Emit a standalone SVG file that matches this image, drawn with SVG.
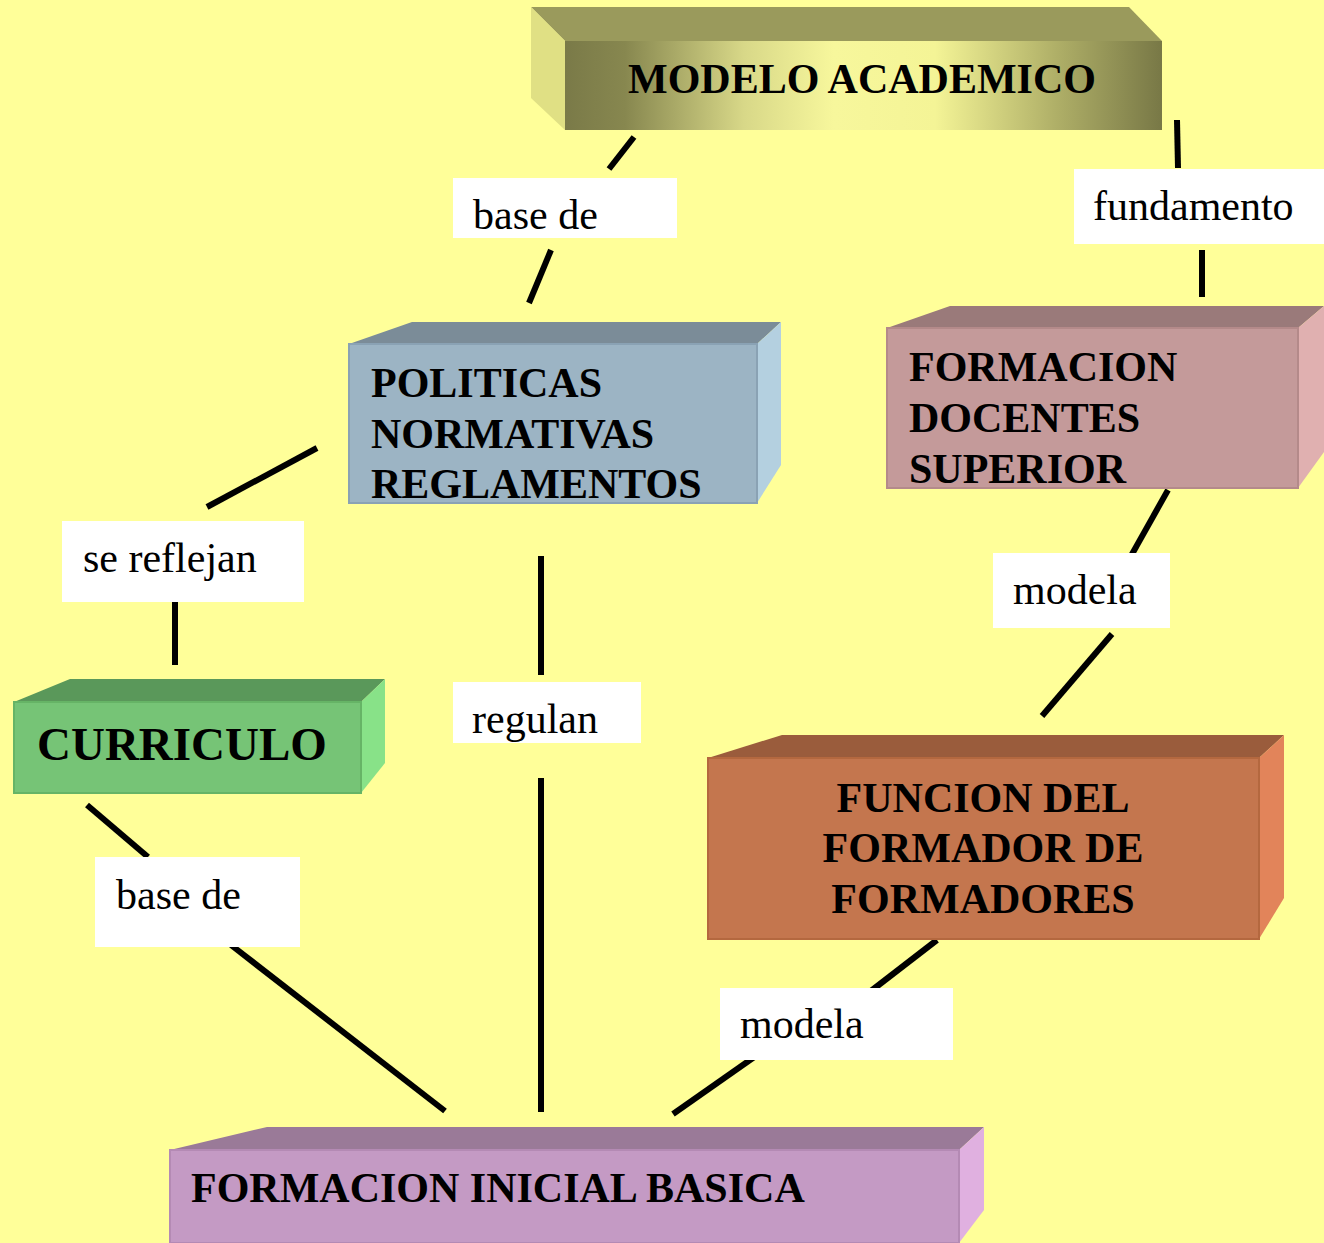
<svg xmlns="http://www.w3.org/2000/svg" width="1324" height="1243" viewBox="0 0 1324 1243">
<defs>
<linearGradient id="gold" x1="0" y1="0" x2="1" y2="0">
<stop offset="0" stop-color="#7a7a48"/>
<stop offset="0.1" stop-color="#87874f"/>
<stop offset="0.3" stop-color="#d8d888"/>
<stop offset="0.45" stop-color="#f7f79c"/>
<stop offset="0.62" stop-color="#f4f496"/>
<stop offset="0.82" stop-color="#b0b068"/>
<stop offset="1" stop-color="#787846"/>
</linearGradient>
<style>
.bt{font-family:"Liberation Serif","Times New Roman",serif;font-weight:bold;font-size:42px;fill:#000}
.lt{font-family:"Liberation Serif","Times New Roman",serif;font-size:42px;fill:#000}
.lb{fill:#fff}
.cn{stroke:#000;stroke-width:6;fill:none}
</style>
</defs>
<rect width="1324" height="1243" fill="#ffff99"/>

<g id="connectors">
<line class="cn" x1="634" y1="137" x2="609" y2="169"/>
<line class="cn" x1="551" y1="250" x2="529" y2="303"/>
<line class="cn" x1="1177" y1="120" x2="1178" y2="168"/>
<line class="cn" x1="1202" y1="250" x2="1202" y2="297"/>
<line class="cn" x1="317" y1="448" x2="207" y2="507"/>
<line class="cn" x1="175" y1="602" x2="175" y2="665"/>
<line class="cn" x1="541" y1="556" x2="541" y2="675"/>
<line class="cn" x1="541" y1="778" x2="541" y2="1112"/>
<line class="cn" x1="1168" y1="490" x2="1122" y2="572"/>
<line class="cn" x1="1112" y1="634" x2="1042" y2="716"/>
<line class="cn" x1="87" y1="805" x2="148" y2="857"/>
<line class="cn" x1="231" y1="945" x2="445" y2="1111"/>
<line class="cn" x1="937" y1="940" x2="867" y2="994"/>
<line class="cn" x1="760" y1="1053" x2="673" y2="1114"/>
</g>

<g id="labels">
<g id="lbl-base-de-1"><rect class="lb" x="453" y="178" width="224" height="60"/><text class="lt" x="473" y="229">base de</text></g>
<g id="lbl-fundamento"><rect class="lb" x="1074" y="169" width="250" height="75"/><text class="lt" x="1093" y="220">fundamento</text></g>
<g id="lbl-se-reflejan"><rect class="lb" x="62" y="521" width="242" height="81"/><text class="lt" x="83" y="572">se reflejan</text></g>
<g id="lbl-regulan"><rect class="lb" x="453" y="682" width="188" height="61"/><text class="lt" x="472" y="733">regulan</text></g>
<g id="lbl-modela-1"><rect class="lb" x="993" y="553" width="177" height="75"/><text class="lt" x="1013" y="604">modela</text></g>
<g id="lbl-base-de-2"><rect class="lb" x="95" y="857" width="205" height="90"/><text class="lt" x="116" y="909">base de</text></g>
<g id="lbl-modela-2"><rect class="lb" x="720" y="988" width="233" height="72"/><text class="lt" x="740" y="1038">modela</text></g>
</g>

<g id="node-modelo">
<polygon points="531,7 1129,7 1162,41 565,41" fill="#9a9a5c"/>
<polygon points="531,7 565,41 565,130 531,98" fill="#e0e084"/>
<rect x="565" y="41" width="597" height="89" fill="url(#gold)"/>
<text class="bt" x="862" y="93" text-anchor="middle">MODELO ACADEMICO</text>
</g>

<g id="node-politicas">
<polygon points="349,344 412,322 781,322 757,344" fill="#7b8c98"/>
<polygon points="757,344 781,322 781,465 757,503" fill="#b4d0e0"/>
<rect x="349" y="344" width="408" height="159" fill="#9cb4c4" stroke="#8aa2b4" stroke-width="2"/>
<text class="bt" x="371" y="397">POLITICAS</text>
<text class="bt" x="371" y="448">NORMATIVAS</text>
<text class="bt" x="371" y="498">REGLAMENTOS</text>
</g>

<g id="node-formacion-docentes">
<polygon points="887,328 950,306 1324,306 1298,328" fill="#9a7a7a"/>
<polygon points="1298,328 1324,306 1324,452 1298,488" fill="#e0b0b0"/>
<rect x="887" y="328" width="411" height="160" fill="#c49a9a" stroke="#b48a8a" stroke-width="2"/>
<text class="bt" x="909" y="381">FORMACION</text>
<text class="bt" x="909" y="432">DOCENTES</text>
<text class="bt" x="909" y="483">SUPERIOR</text>
</g>

<g id="node-curriculo">
<polygon points="14,702 70,679 385,679 361,702" fill="#5a985a"/>
<polygon points="361,702 385,679 385,763 361,793" fill="#88e288"/>
<rect x="14" y="702" width="347" height="91" fill="#76c476" stroke="#66b466" stroke-width="2"/>
<text class="bt" x="37" y="760" style="font-size:47px">CURRICULO</text>
</g>

<g id="node-funcion">
<polygon points="708,758 782,735 1284,735 1259,758" fill="#9a5c3c"/>
<polygon points="1259,758 1284,735 1284,898 1259,939" fill="#e2845a"/>
<rect x="708" y="758" width="551" height="181" fill="#c4764e" stroke="#b4683f" stroke-width="2"/>
<text class="bt" x="983" y="812" text-anchor="middle">FUNCION DEL</text>
<text class="bt" x="983" y="862" text-anchor="middle">FORMADOR DE</text>
<text class="bt" x="983" y="913" text-anchor="middle">FORMADORES</text>
</g>

<g id="node-formacion-inicial">
<polygon points="170,1150 267,1127 984,1127 959,1150" fill="#9a7a98"/>
<polygon points="959,1150 984,1127 984,1210 959,1243" fill="#e0b0e0"/>
<rect x="170" y="1150" width="789" height="93" fill="#c49ac4" stroke="#b48ab4" stroke-width="2"/>
<text class="bt" x="191" y="1202">FORMACION INICIAL BASICA</text>
</g>
</svg>
